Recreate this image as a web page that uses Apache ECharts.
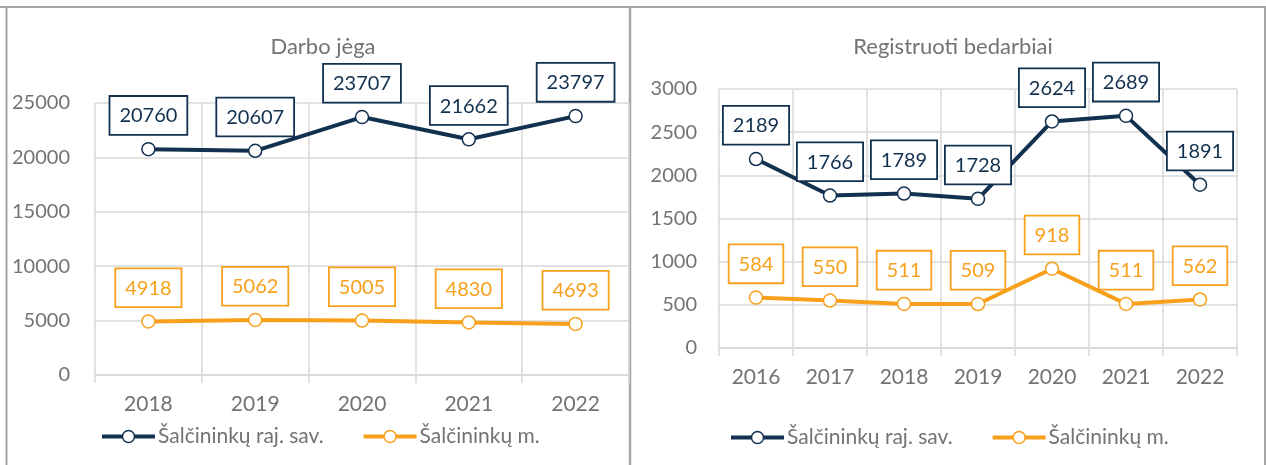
<!DOCTYPE html>
<html>
<head>
<meta charset="utf-8">
<script src="https://cdn.jsdelivr.net/npm/echarts@6/dist/echarts.min.js"></script>
<style>
  html, body { margin: 0; padding: 0; background: #fff; }
  #chart { width: 1266px; height: 465px; }
</style>
</head>
<body>
<div id="chart"></div>
<script>
// Darbo jėga
const yearsLeft = ["2018", "2019", "2020", "2021", "2022"];
const rajLeft = [20760, 20607, 23707, 21662, 23797];
const miestasLeft = [4918, 5062, 5005, 4830, 4693];

// Registruoti bedarbiai
const yearsRight = ["2016", "2017", "2018", "2019", "2020", "2021", "2022"];
const rajRight = [2189, 1766, 1789, 1728, 2624, 2689, 1891];
const miestasRight = [584, 550, 511, 509, 918, 511, 562];

const NAVY = "#12304f";
const ORANGE = "#f8a01b";
const GRID = "#d9d9d9";
const TEXT = "#737373";
const FONT = "Lato";

const chart = echarts.init(document.getElementById("chart"));

function xAxis(idx, data) {
  return {
    type: "category",
    gridIndex: idx,
    data: data,
    boundaryGap: true,
    axisLine: { lineStyle: { color: GRID, width: 1.5 } },
    axisTick: { show: true, length: 8, lineStyle: { color: GRID, width: 1.5 } },
    splitLine: { show: true, lineStyle: { color: GRID, width: 1.5 } },
    axisLabel: { color: TEXT, fontFamily: FONT, fontSize: 21, margin: 19 }
  };
}

function yAxis(idx, max, interval, margin) {
  return {
    type: "value",
    gridIndex: idx,
    min: 0,
    max: max,
    interval: interval,
    axisLine: { show: false },
    axisTick: { show: false },
    splitLine: { lineStyle: { color: GRID, width: 1.5 } },
    axisLabel: { color: TEXT, fontFamily: FONT, fontSize: 20, margin: margin, formatter: v => String(v) }
  };
}

function line(name, idx, data, color) {
  return {
    name: name,
    type: "line",
    xAxisIndex: idx,
    yAxisIndex: idx,
    data: data,
    symbol: "circle",
    symbolSize: 13,
    lineStyle: { color: color, width: 4 },
    itemStyle: { color: "#fff", borderColor: color, borderWidth: 1.5 },
    label: {
      show: true,
      position: "top",
      distance: 8,
      color: color,
      fontFamily: FONT,
      fontSize: 20,
      lineHeight: 24,
      backgroundColor: "#fff",
      borderColor: color,
      borderWidth: 1.8,
      padding: [7, 9, 6, 9]
    },
    animation: false
  };
}

function legend(left, top) {
  return {
    left: left,
    top: top,
    itemWidth: 53,
    itemHeight: 15,
    itemGap: 38,
    textStyle: { color: TEXT, fontFamily: FONT, fontSize: 21, padding: [0, 0, 0, -2] },
    data: [
      { name: "Šalčininkų raj. sav.", itemStyle: { color: "#fff", borderColor: NAVY, borderWidth: 1.5 },
        lineStyle: { color: NAVY, width: 4 } },
      { name: "Šalčininkų m.", itemStyle: { color: "#fff", borderColor: ORANGE, borderWidth: 1.5 },
        lineStyle: { color: ORANGE, width: 4 } }
    ]
  };
}

chart.setOption({
  backgroundColor: "#fff",
  title: [
    { text: "Darbo jėga", left: 318, top: 31, textAlign: "center",
      textStyle: { color: TEXT, fontFamily: FONT, fontSize: 22, fontWeight: "normal" } },
    { text: "Registruoti bedarbiai", left: 948, top: 31, textAlign: "center",
      textStyle: { color: TEXT, fontFamily: FONT, fontSize: 22, fontWeight: "normal" } }
  ],
  legend: [legend(95, 421), legend(724, 422)],
  grid: [
    { left: 95, right: 637, top: 103, bottom: 90 },
    { left: 719, right: 29, top: 89, bottom: 117 }
  ],
  xAxis: [xAxis(0, yearsLeft), xAxis(1, yearsRight)],
  yAxis: [yAxis(0, 25000, 5000, 25), yAxis(1, 3000, 500, 22)],
  series: [
    line("Šalčininkų raj. sav.", 0, rajLeft, NAVY),
    line("Šalčininkų m.", 0, miestasLeft, ORANGE),
    line("Šalčininkų raj. sav.", 1, rajRight, NAVY),
    line("Šalčininkų m.", 1, miestasRight, ORANGE)
  ],
  graphic: [
    { type: "line", shape: { x1: 0, y1: 7, x2: 1266, y2: 7 }, style: { stroke: "#a6a6a6", lineWidth: 2 } },
    { type: "line", shape: { x1: 6.5, y1: 7, x2: 6.5, y2: 465 }, style: { stroke: "#a6a6a6", lineWidth: 2 } },
    { type: "line", shape: { x1: 630, y1: 7, x2: 630, y2: 465 }, style: { stroke: "#a6a6a6", lineWidth: 2.5 } },
    { type: "line", shape: { x1: 1265, y1: 7, x2: 1265, y2: 465 }, style: { stroke: "#a6a6a6", lineWidth: 2 } }
  ]
});
</script>
</body>
</html>
